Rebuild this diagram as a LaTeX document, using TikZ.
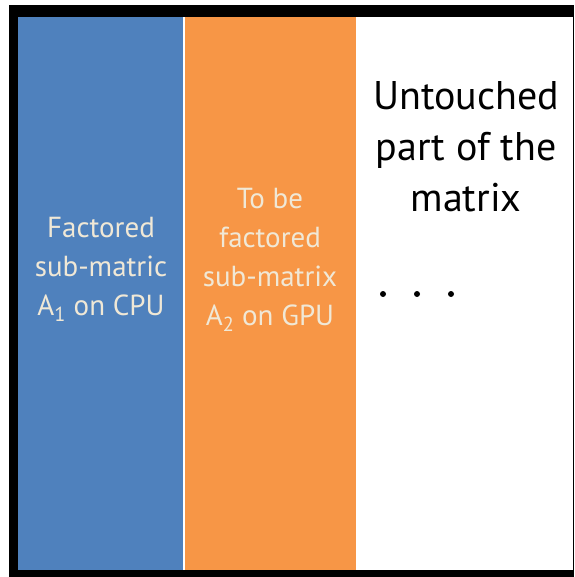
\documentclass[tikz,border=0pt]{standalone}
\usepackage{fontspec}
\setmainfont{PT Sans}
\definecolor{cpublue}{HTML}{4F81BD}
\definecolor{gpuorange}{HTML}{F79646}
\definecolor{paletext}{HTML}{F0E8D6}
\begin{document}
\begin{tikzpicture}[x=1pt,y=-1pt,
  lbl/.style={align=center,font=\fontsize{29}{39}\selectfont,text=paletext,inner sep=0pt},
  biglbl/.style={align=center,font=\fontsize{40}{51}\selectfont,text=black,inner sep=0pt},
  dotmark/.style={circle,fill=black,inner sep=0pt,minimum size=6pt}]
  \useasboundingbox (0,0) rectangle (574,577);
  % heavy frame on left, top and bottom, hairline on the right
  \fill[black] (9,5) rectangle (574,577);
  \fill[white] (18,17) rectangle (573.2,570);
  % columns
  \fill[cpublue] (18,17) rectangle (183,570);
  \fill[gpuorange] (185,17) rectangle (356,570);
  % labels
  \node[lbl] (cpu) at (101,269) {Factored\\sub-matric\\A\textsubscript{1} on CPU};
  \node[lbl] (gpu) at (270,260) {To be\\factored\\sub-matrix\\A\textsubscript{2} on GPU};
  \node[biglbl] (untouched) at (466,147) {Untouched\\part of the\\matrix};
  \node[dotmark] (d1) at (383,294) {};
  \node[dotmark] (d2) at (417,294) {};
  \node[dotmark] (d3) at (451,294) {};
\end{tikzpicture}
\end{document}
